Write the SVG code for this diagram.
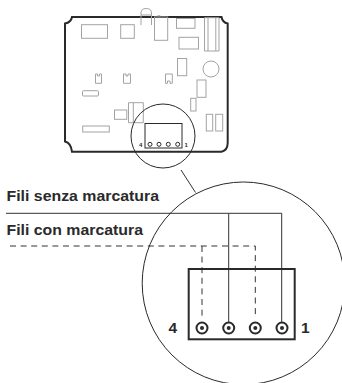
<svg xmlns="http://www.w3.org/2000/svg" width="342" height="383" viewBox="0 0 342 383">
<style>
.c{fill:none;stroke:#a3a3a3;stroke-width:1}
.k{fill:none;stroke:#2a2a2a}
.t{font-family:"Liberation Sans",Arial,sans-serif;font-weight:bold;fill:#2a2a2a}
.p{fill:#fff;stroke:#2a2a2a;stroke-width:2}
.d{fill:#2a2a2a}
.w{fill:none;stroke:#333;stroke-width:1}
.h{stroke-dasharray:6 4.6}
</style>
<g id="board">
<path class="k" stroke-width="2" d="M72 17H221.500Q222.500 22.500 227.700 23.500V143Q227.500 150.500 221.500 151.700H72Q71 143 65 141.500V23.500Q71 22.500 72 17Z"/>
<g id="components">
<rect class="c" x="81.500" y="24.700" width="26" height="13.600"/>
<rect class="c" x="120.700" y="24.700" width="13.600" height="13.600"/>
<path class="c" d="M141 25V15H151.500V25M141 15V13Q141 8.500 146.200 8.500T151.500 13V15"/>
<rect class="c" x="154.500" y="17" width="13.200" height="23.300"/>
<rect x="157.500" y="15.500" width="2.800" height="2" fill="#777"/>
<rect class="c" x="176.500" y="18.500" width="18.500" height="9.800"/>
<rect class="c" x="179" y="37.300" width="19.500" height="11.700"/>
<rect class="c" x="177.500" y="58.500" width="9.200" height="17.200"/>
<path class="c" d="M204.500 17.700H219V51H204.500ZM208 17.700V51M215.800 17.700V51"/>
<circle class="c" cx="211" cy="69" r="8"/>
<path class="c" d="M95.500 74H97.500V76H99.500V74H101.500V83.300H95.500Z"/>
<path class="c" d="M123.500 74H126V76H128V74H130.500V83.300H123.500Z"/>
<path class="c" d="M165.500 74H172.300V83.300H170V81H167.500V83.300H165.500Z"/>
<rect class="c" x="82.500" y="90.700" width="16" height="5.300" rx="1"/>
<rect class="c" x="114.500" y="110" width="12.300" height="9.300"/>
<path class="c" d="M128.500 102.700H143.300V122.700H128.500ZM133.300 102.700V122.700"/>
<rect class="c" x="82.700" y="126" width="26.600" height="6"/>
<rect class="c" x="197" y="80" width="9" height="17.300"/>
<rect class="c" x="190.700" y="98.300" width="5.300" height="12.700"/>
<rect class="c" x="206.300" y="114.300" width="6.400" height="16.700"/>
<rect class="c" x="215.700" y="114.300" width="7" height="16.700"/>
</g>
</g>
<g id="detail-small">
<circle cx="163" cy="136" r="32" class="k" stroke-width="1"/>
<rect x="145" y="123.500" width="37" height="24.500" class="k" stroke-width="1"/>
<g fill="#fff" stroke="#2a2a2a" stroke-width="1">
<circle cx="150" cy="144.300" r="2"/><circle cx="159" cy="144.300" r="2"/><circle cx="168.300" cy="144.300" r="2"/><circle cx="177.700" cy="144.300" r="2"/>
</g>
<text class="t" x="139" y="147" font-size="6">4</text>
<text class="t" x="184.500" y="147" font-size="6">1</text>
</g>
<g id="connectors">
<path class="w" d="M181 170L195.500 192.500"/>
<path class="w" d="M6 213.300H281.700V328M228.700 213.300V328"/>
<path class="w h" d="M10 246H255.300V316M202 246V316"/>
</g>
<g id="detail-large">
<circle cx="243.500" cy="283.300" r="101.300" class="k" stroke-width="1"/>
<rect x="188.700" y="269" width="106" height="70.300" class="k" stroke-width="2"/>
<g id="pin-4"><circle class="p" cx="202" cy="328" r="5.500"/><circle class="d" cx="202" cy="328" r="2"/></g>
<g id="pin-3"><circle class="p" cx="228.700" cy="328" r="5.500"/><circle class="d" cx="228.700" cy="328" r="2"/></g>
<g id="pin-2"><circle class="p" cx="255.300" cy="328" r="5.500"/><circle class="d" cx="255.300" cy="328" r="2"/></g>
<g id="pin-1"><circle class="p" cx="282" cy="328" r="5.500"/><circle class="d" cx="282" cy="328" r="2"/></g>
<text class="t" x="168.500" y="332.700" font-size="15.500">4</text>
<text class="t" x="301" y="332.700" font-size="15.500">1</text>
</g>
<g id="labels">
<text class="t" x="6.500" y="200.500" font-size="15.500" textLength="152.500" lengthAdjust="spacingAndGlyphs">Fili senza marcatura</text>
<text class="t" x="6.500" y="235" font-size="15.500" textLength="136.500" lengthAdjust="spacingAndGlyphs">Fili con marcatura</text>
</g>
</svg>
